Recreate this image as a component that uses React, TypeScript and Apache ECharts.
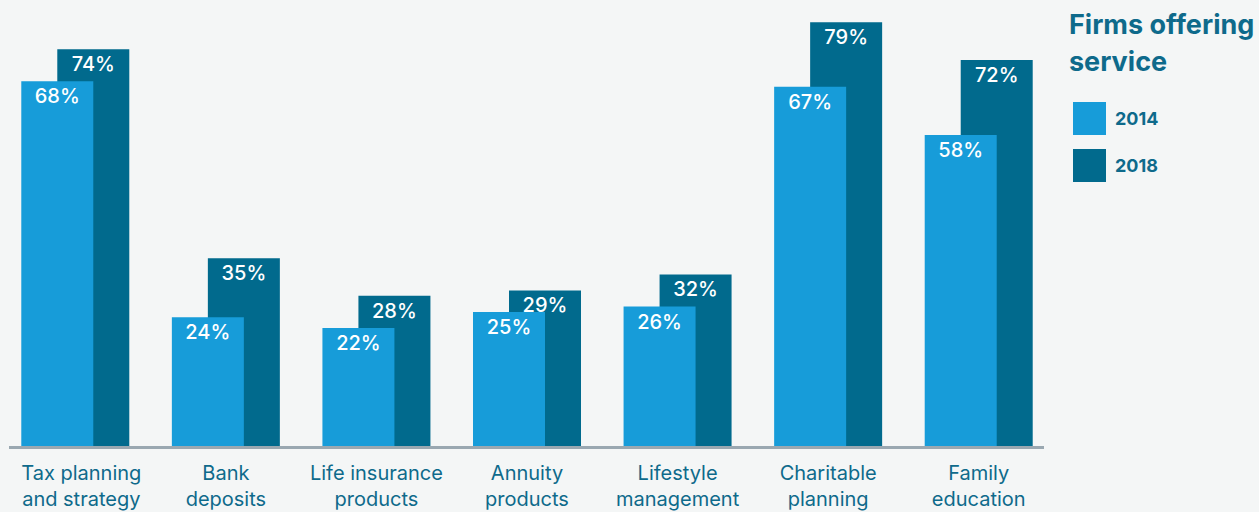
import React, { useEffect, useRef } from "react";
import * as echarts from "echarts";

const categories = [
  "Tax planning\nand strategy",
  "Bank\ndeposits",
  "Life insurance\nproducts",
  "Annuity\nproducts",
  "Lifestyle\nmanagement",
  "Charitable\nplanning",
  "Family\neducation",
];
const values2014 = [68, 24, 22, 25, 26, 67, 58];
const values2018 = [74, 35, 28, 29, 32, 79, 72];
const seriesNames = ["2014", "2018"];
const titleText = "Firms offering\nservice";

const LIGHT = "#179cd9";
const DARK = "#016a8d";
const TEXT = "#0e6a8b";
const FONT = "Inter, Roboto, 'Noto Sans', sans-serif";

export default function App() {
  const ref = useRef<HTMLDivElement>(null);
  useEffect(() => {
    if (!ref.current) return;
    const chart = echarts.init(ref.current, undefined, { renderer: "svg" });
    const labelText = {
      color: "#ffffff",
      opacity: 1,
      fontSize: 20,
      fontWeight: 500,
      fontFamily: FONT,
      formatter: (p: any) => p.value + "%",
    };
    chart.setOption({
      animation: false,
      backgroundColor: "#f4f6f6",
      textStyle: { fontFamily: FONT },
      title: {
        text: titleText,
        left: 1064,
        top: 1,
        textStyle: {
          color: TEXT,
          fontSize: 27,
          fontWeight: "bold",
          lineHeight: 37,
          fontFamily: FONT,
        },
      },
      legend: {
        orient: "vertical",
        left: 1068,
        top: 97,
        itemWidth: 33,
        itemHeight: 33,
        itemGap: 14,
        icon: "rect",
        data: seriesNames,
        textStyle: {
          color: TEXT,
          fontSize: 18,
          fontWeight: "bold",
          fontFamily: FONT,
          padding: [0, 0, 0, 4],
        },
      },
      grid: { left: 0, right: 205, top: 17, bottom: 66 },
      xAxis: {
        type: "category",
        data: categories,
        axisLine: { show: false },
        axisTick: { show: false },
        axisLabel: {
          color: TEXT,
          fontSize: 20,
          lineHeight: 26,
          margin: 14,
          fontFamily: FONT,
          interval: 0,
          formatter: (value: string, index: number) => {
            if (index === 0) {
              return value
                .split("\n")
                .map((l) => "{first|" + l + "}")
                .join("\n");
            }
            return value;
          },
          rich: {
            first: {
              color: TEXT,
              fontSize: 20,
              lineHeight: 26,
              fontFamily: FONT,
              padding: [0, 0, 0, 12],
            },
          },
        },
      },
      yAxis: {
        type: "value",
        min: 0,
        max: 80,
        show: false,
        splitLine: { show: false },
      },
      graphic: [
        {
          type: "line",
          shape: { x1: 9, y1: 447.5, x2: 1044, y2: 447.5 },
          style: { stroke: "#9aa8b1", lineWidth: 3 },
          z: 10,
        },
      ],
      series: [
        {
          name: seriesNames[0],
          type: "bar",
          data: values2014,
          barWidth: 72,
          barGap: "-50%",
          itemStyle: { color: LIGHT },
          label: { show: true, position: "insideTop", distance: 5, ...labelText },
          z: 3,
        },
        {
          name: seriesNames[1],
          type: "bar",
          data: values2018,
          barWidth: 72,
          barGap: "-50%",
          itemStyle: { color: DARK },
          label: { show: false },
          z: 2,
        },
        {
          name: "labels2018",
          type: "scatter",
          data: values2018,
          symbolSize: 0,
          silent: true,
          z: 5,
          itemStyle: { color: DARK, opacity: 1 },
          label: {
            show: true,
            position: "bottom",
            distance: 5,
            offset: [18, 0],
            ...labelText,
          },
        },
      ],
    });
    return () => chart.dispose();
  }, []);
  return (
    <div
      ref={ref}
      style={{ position: "absolute", left: 0, top: 0, width: 1259, height: 512 }}
    />
  );
}
